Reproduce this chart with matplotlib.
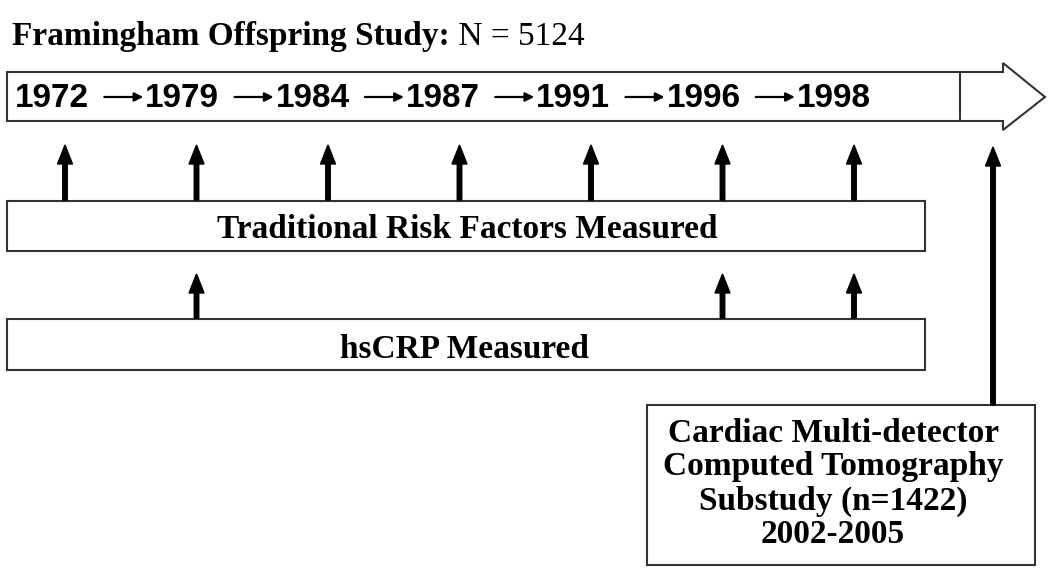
import matplotlib.pyplot as plt
from matplotlib.patches import Rectangle, Polygon

# dados do diagrama
title_bold = 'Framingham Offspring Study:'
title_plain = ' N = 5124'
exam_years = [1972, 1979, 1984, 1987, 1991, 1996, 1998]
trf_years = [1972, 1979, 1984, 1987, 1991, 1996, 1998]
crp_years = [1979, 1996, 1998]
trf_label = 'Traditional Risk Factors Measured'
crp_label = 'hsCRP Measured'
ct_label = 'Cardiac Multi-detector\nComputed Tomography\nSubstudy (n=1422)\n2002-2005'

serif = 'Liberation Serif'
sans = 'Liberation Sans'
edge = '#333333'

fig = plt.figure(figsize=(10.5, 5.73), dpi=100)
ax = fig.add_axes([0, 0, 1, 1])
ax.set_xlim(0, 1050)
ax.set_ylim(573, 0)
ax.axis('off')

# titulo
t = ax.text(12, 45, title_bold, fontsize=24, fontweight='bold', family=serif,
            ha='left', va='baseline')
fig.canvas.draw()
bb = t.get_window_extent().transformed(ax.transData.inverted())
ax.text(bb.x1, 45, title_plain, fontsize=24, family=serif, ha='left', va='baseline')

# seta grande da linha do tempo
ax.add_patch(Polygon([(7, 72), (1003, 72), (1003, 63), (1045, 97), (1003, 130),
                      (1003, 121), (7, 121)], closed=True, fc='white', ec=edge, lw=1.5))
ax.plot([960, 960], [72, 121], color=edge, lw=1.5)

def year_left(i):
    return 15 + i * 130.3

def slot_x(i):
    return 65 + i * 131.5

for i, yr in enumerate(exam_years):
    xl = year_left(i)
    ax.text(xl, 107, str(yr), fontsize=24, fontweight='bold', family=sans,
            ha='left', va='baseline')
    if i > 0:
        ax.annotate('', xy=(xl - 2, 97), xytext=(xl - 41, 97),
                    arrowprops=dict(arrowstyle='-|>', lw=1.6, mutation_scale=13,
                                    color='black', shrinkA=0, shrinkB=0))

def up_arrow(x, y0, y1):
    ax.arrow(x, y0, 0, y1 - y0, width=4.5, head_width=15, head_length=19,
             length_includes_head=True, fc='black', ec='black')

# caixa fatores de risco
ax.add_patch(Rectangle((7, 201), 918, 50, fc='white', ec=edge, lw=1.5))
ax.text(467, 238, trf_label, fontsize=24, fontweight='bold', family=serif,
        ha='center', va='baseline')
for yr in trf_years:
    up_arrow(slot_x(exam_years.index(yr)), 200, 145)

# caixa hsCRP
ax.add_patch(Rectangle((7, 319), 918, 51, fc='white', ec=edge, lw=1.5))
ax.text(464, 358, crp_label, fontsize=24, fontweight='bold', family=serif,
        ha='center', va='baseline')
for yr in crp_years:
    up_arrow(slot_x(exam_years.index(yr)), 318, 274)

# caixa tomografia
ax.add_patch(Rectangle((647, 405), 388, 160, fc='white', ec=edge, lw=1.5))
ax.text(833, 484, ct_label, fontsize=24, fontweight='bold', family=serif,
        ha='center', va='center', linespacing=1.12)
up_arrow(993, 405, 147)

fig.savefig('out.png', dpi=100)
